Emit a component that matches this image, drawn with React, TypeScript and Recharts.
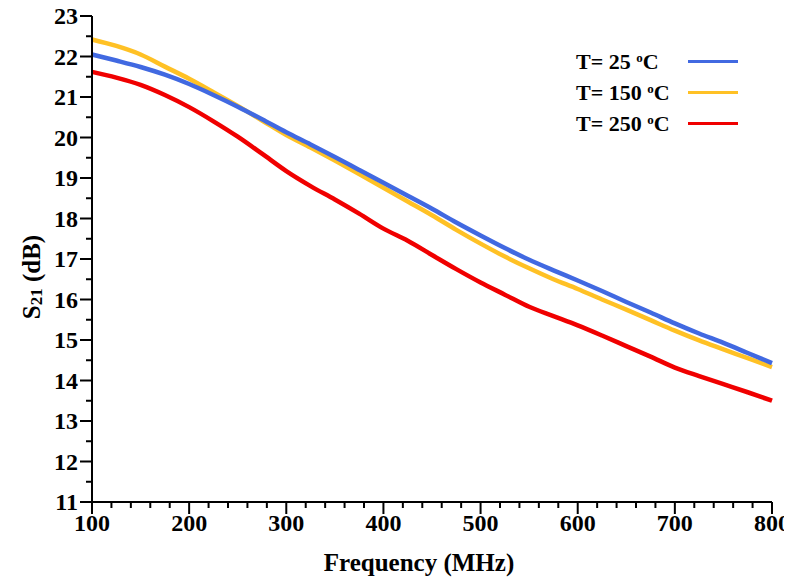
import React from "react";
import { LineChart, Line, XAxis, YAxis, Legend } from "recharts";

// frequency in MHz
const freqs = [100, 125, 150, 175, 200, 225, 250, 275, 300, 325, 350, 375, 400, 425, 450, 475, 500, 525, 550, 575, 600, 625, 650, 675, 700, 725, 750, 775, 800];

// S21 (dB) per temperature
const s21_25 = [22.05, 21.9, 21.74, 21.55, 21.32, 21.05, 20.76, 20.45, 20.13, 19.83, 19.52, 19.2, 18.88, 18.56, 18.24, 17.9, 17.58, 17.27, 16.98, 16.72, 16.47, 16.21, 15.94, 15.68, 15.41, 15.16, 14.93, 14.68, 14.43];
const s21_150 = [22.42, 22.26, 22.05, 21.75, 21.45, 21.12, 20.78, 20.42, 20.06, 19.75, 19.43, 19.1, 18.76, 18.42, 18.08, 17.72, 17.38, 17.06, 16.77, 16.5, 16.26, 16.0, 15.75, 15.49, 15.23, 14.99, 14.77, 14.55, 14.33];
const s21_250 = [21.62, 21.48, 21.3, 21.05, 20.75, 20.4, 20.02, 19.6, 19.17, 18.8, 18.47, 18.12, 17.75, 17.45, 17.1, 16.75, 16.42, 16.12, 15.82, 15.59, 15.36, 15.11, 14.85, 14.59, 14.32, 14.11, 13.91, 13.71, 13.5];

const xTicks = Array.from({ length: 36 }, (_, i) => 100 + i * 20);
const yTicks = Array.from({ length: 25 }, (_, i) => 11 + i * 0.5);

const series = [
  { key: "t25", temp: "25", color: "#4169E1" },
  { key: "t150", temp: "150", color: "#FFC125" },
  { key: "t250", temp: "250", color: "#F00000" },
];

const data = freqs.map((f, i) => ({ f, t25: s21_25[i], t150: s21_150[i], t250: s21_250[i] }));

const FONT = "'Liberation Serif', 'Times New Roman', serif";
const TICK_SIZE = 12;
const TICK_MARGIN = 4;

const YTick = (props: any) => {
  const { x, y, payload } = props;
  const v = payload.value;
  const major = Math.abs(v - Math.round(v)) < 1e-6;
  const ax = x + TICK_SIZE + TICK_MARGIN;
  return (
    <g>
      <line x1={ax - (major ? 12 : 6)} x2={ax} y1={y} y2={y} stroke="#000" strokeWidth={2} />
      {major && (
        <text x={ax - 14} y={y + 8} textAnchor="end" fontFamily={FONT} fontWeight="bold" fontSize={24} fill="#000">
          {Math.round(v)}
        </text>
      )}
    </g>
  );
};

const XTick = (props: any) => {
  const { x, y, payload } = props;
  const v = payload.value;
  const major = v % 100 === 0;
  const ay = y - TICK_SIZE - TICK_MARGIN;
  return (
    <g>
      <line x1={x} x2={x} y1={ay} y2={ay + (major ? 12 : 6)} stroke="#000" strokeWidth={2} />
      {major && (
        <text x={x} y={ay + 29} textAnchor="middle" fontFamily={FONT} fontWeight="bold" fontSize={24} fill="#000">
          {v}
        </text>
      )}
    </g>
  );
};

const YLabel = (props: any) => {
  const vb = props.viewBox;
  const cx = vb.x + 23;
  const cy = vb.y + vb.height / 2 + 18;
  return (
    <text x={cx} y={cy} transform={`rotate(-90 ${cx} ${cy})`} textAnchor="middle" dominantBaseline="central" fontFamily={FONT} fontWeight="bold" fontSize={25} fill="#000">
      S<tspan fontSize={17} dy={5}>21</tspan>
      <tspan dy={-5}> (dB)</tspan>
    </text>
  );
};

const XLabel = (props: any) => {
  const vb = props.viewBox;
  return (
    <text x={vb.x + 327} y={vb.y + 69} textAnchor="middle" fontFamily={FONT} fontWeight="bold" fontSize={25} fill="#000">
      Frequency (MHz)
    </text>
  );
};

const LegendBox = () => (
  <div style={{ fontFamily: FONT, fontWeight: "bold", fontSize: 22, color: "#000" }}>
    {series.map((s) => (
      <div key={s.key} style={{ display: "flex", alignItems: "center", height: 31 }}>
        <span style={{ width: 112, whiteSpace: "nowrap" }}>
          T= {s.temp} <span style={{ fontSize: 13, verticalAlign: "7px" }}>o</span>C
        </span>
        <span style={{ width: 50, height: 3, background: s.color, display: "inline-block" }} />
      </div>
    ))}
  </div>
);

export default function App() {
  return (
    <div style={{ marginTop: -8 }}>
      <LineChart width={784} height={582} data={data} margin={{ top: 16, right: 20, left: 0, bottom: 0 }}>
        <XAxis
          dataKey="f"
          type="number"
          domain={[100, 800]}
          ticks={xTicks}
          interval={0}
          tick={<XTick />}
          tickLine={false}
          tickSize={TICK_SIZE}
          tickMargin={TICK_MARGIN}
          height={80}
          axisLine={{ stroke: "#000", strokeWidth: 2 }}
          label={{ content: XLabel }}
        />
        <XAxis xAxisId="top" orientation="top" type="number" domain={[100, 800]} height={0} tick={false} tickLine={false} axisLine={{ stroke: "#000", strokeWidth: 2 }} />
        <YAxis
          type="number"
          domain={[11, 23]}
          ticks={yTicks}
          interval={0}
          tick={<YTick />}
          tickLine={false}
          tickSize={TICK_SIZE}
          tickMargin={TICK_MARGIN}
          width={84}
          axisLine={{ stroke: "#000", strokeWidth: 2 }}
          label={{ content: YLabel }}
        />
        <YAxis yAxisId="right" orientation="right" type="number" domain={[11, 23]} width={0} tick={false} tickLine={false} axisLine={{ stroke: "#000", strokeWidth: 2 }} />
        <Legend
          layout="vertical"
          align="center"
          verticalAlign="middle"
          content={<LegendBox />}
          wrapperStyle={{ top: 46, left: 568, width: 180 }}
        />
        <Line dataKey="t250" type="monotone" stroke="#F00000" strokeWidth={4.5} dot={false} isAnimationActive={false} />
        <Line dataKey="t150" type="monotone" stroke="#FFC125" strokeWidth={4.5} dot={false} isAnimationActive={false} />
        <Line dataKey="t25" type="monotone" stroke="#4169E1" strokeWidth={4.5} dot={false} isAnimationActive={false} />
      </LineChart>
    </div>
  );
}
